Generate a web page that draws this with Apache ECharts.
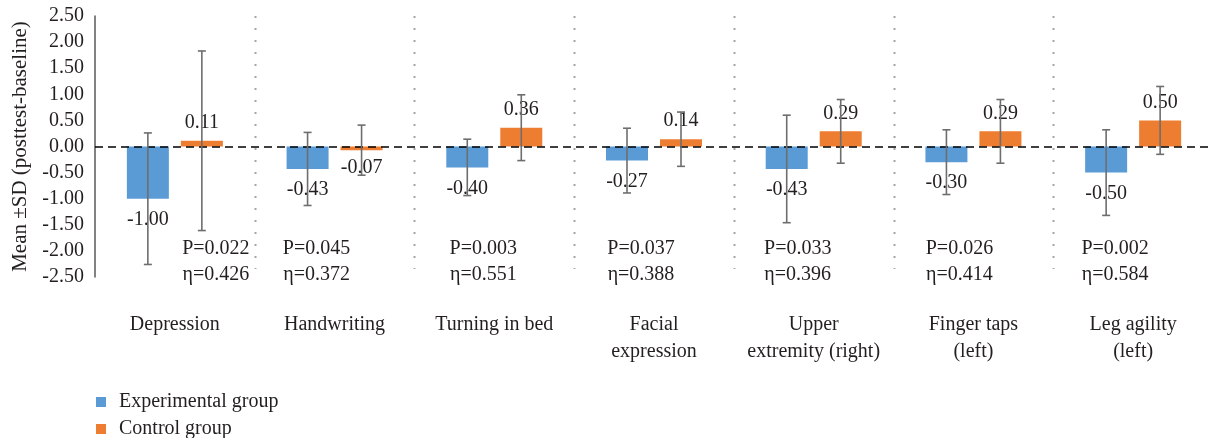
<!DOCTYPE html>
<html><head><meta charset="utf-8">
<script src="https://cdn.jsdelivr.net/npm/echarts@6/dist/echarts.min.js"></script>
<style>html,body{margin:0;padding:0;background:#fff}#c{width:1213px;height:438px}</style>
</head><body><div id="c"></div>
<script>
// ---- data ----
const categories = ['Depression', 'Handwriting', 'Turning in bed', 'Facial\nexpression', 'Upper\nextremity (right)', 'Finger taps\n(left)', 'Leg agility\n(left)'];
const seriesNames = ['Experimental group', 'Control group'];
const expMean = [-1.00, -0.43, -0.40, -0.27, -0.43, -0.30, -0.50];
const expSD = [1.26, 0.70, 0.54, 0.62, 1.03, 0.62, 0.82];
const ctlMean = [0.11, -0.07, 0.36, 0.14, 0.29, 0.29, 0.50];
const ctlSD = [1.72, 0.48, 0.63, 0.52, 0.61, 0.61, 0.65];
const pValues = ['0.022', '0.045', '0.003', '0.037', '0.033', '0.026', '0.002'];
const etaValues = ['0.426', '0.372', '0.551', '0.388', '0.396', '0.414', '0.584'];
const yMin = -2.5, yMax = 2.5, yStep = 0.5;

// ---- layout / style ----
const FONT = '"Liberation Serif", "DejaVu Serif", serif';
const FS = 20;
const TXT = '#231f20';
const BLUE = '#5b9bd5', ORANGE = '#ed7d31';
const BAR_W = 42, BAR_GAP = 12;
const annotDx = [41, -18, -11, -13, -16, -14, -18]; // px shift of the P/eta text boxes
const P_Y = -1.96, ETA_Y = -2.46;

function errRender(dx) {
  return function (params, api) {
    const i = api.value(0);
    const lo = api.coord([i, api.value(1)]);
    const hi = api.coord([i, api.value(2)]);
    const x = lo[0] + dx, cap = 4;
    const st = { stroke: '#6e6e6e', lineWidth: 1.6 };
    return { type: 'group', children: [
      { type: 'line', shape: { x1: x, y1: lo[1], x2: x, y2: hi[1] }, style: st },
      { type: 'line', shape: { x1: x - cap, y1: lo[1], x2: x + cap, y2: lo[1] }, style: st },
      { type: 'line', shape: { x1: x - cap, y1: hi[1], x2: x + cap, y2: hi[1] }, style: st }
    ] };
  };
}

const chart = echarts.init(document.getElementById('c'), null, { renderer: 'canvas' });
const off = BAR_W / 2 + BAR_GAP / 2;
const legendBase = {
  orient: 'vertical', left: 91, icon: 'rect', itemWidth: 10, itemHeight: 10,
  textStyle: { fontFamily: FONT, fontSize: FS, color: TXT, padding: [0, 0, 0, 8] }
};

chart.setOption({
  animation: false,
  textStyle: { fontFamily: FONT },
  grid: { left: 95, right: 0, top: 16, bottom: 161 },
  legend: [
    Object.assign({ top: 387, data: [seriesNames[0]] }, legendBase),
    Object.assign({ top: 414, data: [seriesNames[1]] }, legendBase)
  ],
  xAxis: {
    type: 'category', data: categories,
    axisLine: { show: false }, axisTick: { show: false }, splitLine: { show: false },
    axisLabel: { interval: 0, margin: 34, fontFamily: FONT, fontSize: FS, color: TXT, lineHeight: 27, verticalAlign: 'top' }
  },
  yAxis: {
    type: 'value', min: yMin, max: yMax, interval: yStep,
    name: 'Mean ±SD (posttest-baseline)', nameLocation: 'middle', nameGap: 58,
    nameTextStyle: { fontFamily: FONT, fontSize: 21, color: TXT },
    axisLine: { show: true, lineStyle: { color: '#595959', width: 1.5 } },
    axisTick: { show: false }, splitLine: { show: false },
    axisLabel: { margin: 11, fontFamily: FONT, fontSize: FS, color: TXT, formatter: v => v.toFixed(2) }
  },
  series: [
    {
      name: seriesNames[0], type: 'bar', barWidth: BAR_W, barGap: (BAR_GAP / BAR_W * 100) + '%',
      itemStyle: { color: BLUE },
      data: expMean.map(v => ({ value: v, label: { position: v < 0 ? 'bottom' : 'top' } })),
      label: { show: true, distance: 11, fontFamily: FONT, fontSize: FS, color: TXT, formatter: p => p.value.toFixed(2) },
      markLine: {
        silent: true, symbol: 'none', label: { show: false },
        lineStyle: { color: '#000', type: [8, 5], width: 1.5 },
        data: [{ yAxis: 0 }]
      },
      z: 2
    },
    {
      name: seriesNames[1], type: 'bar', barWidth: BAR_W,
      itemStyle: { color: ORANGE },
      data: ctlMean.map(v => ({ value: v, label: { position: v < 0 ? 'bottom' : 'top' } })),
      label: { show: true, distance: 8, fontFamily: FONT, fontSize: FS, color: TXT, formatter: p => p.value.toFixed(2) },
      z: 2
    },
    {
      type: 'custom', name: 'errExp', renderItem: errRender(-off), z: 5,
      encode: { x: 0, y: [1, 2] },
      data: expMean.map((m, i) => [i, m - expSD[i], m + expSD[i]])
    },
    {
      type: 'custom', name: 'errCtl', renderItem: errRender(off), z: 5,
      encode: { x: 0, y: [1, 2] },
      data: ctlMean.map((m, i) => [i, m - ctlSD[i], m + ctlSD[i]])
    },
    {
      type: 'custom', name: 'separators', z: 1, silent: true,
      encode: { x: 0, y: 1 },
      renderItem: function (params, api) {
        const i = api.value(0);
        const c = api.coord([i, 0]);
        const bw = api.size([1, 0])[0];
        const cs = params.coordSys;
        const x = Math.round(c[0] - bw / 2) + 0.5;
        return { type: 'line', shape: { x1: x, y1: cs.y, x2: x, y2: cs.y + cs.height - 8 },
          style: { stroke: '#a6a6a6', lineWidth: 2, lineDash: [2, 10] } };
      },
      data: categories.slice(1).map((c, k) => [k + 1, 0])
    },
    {
      type: 'custom', name: 'annot', z: 3, silent: true,
      encode: { x: 0, y: 1 },
      renderItem: function (params, api) {
        const i = api.value(0);
        const pp = api.coord([i, P_Y]);
        const pe = api.coord([i, ETA_Y]);
        const x = pp[0] + annotDx[i];
        const s = { fontFamily: FONT, fontSize: FS, fill: TXT, textAlign: 'center', textVerticalAlign: 'middle' };
        return { type: 'group', children: [
          { type: 'text', style: Object.assign({ x: x, y: pp[1], text: 'P=' + pValues[i] }, s) },
          { type: 'text', style: Object.assign({ x: x, y: pe[1], text: 'η=' + etaValues[i] }, s) }
        ] };
      },
      data: categories.map((c, i) => [i, P_Y])
    }
  ]
});
</script>
</body></html>
